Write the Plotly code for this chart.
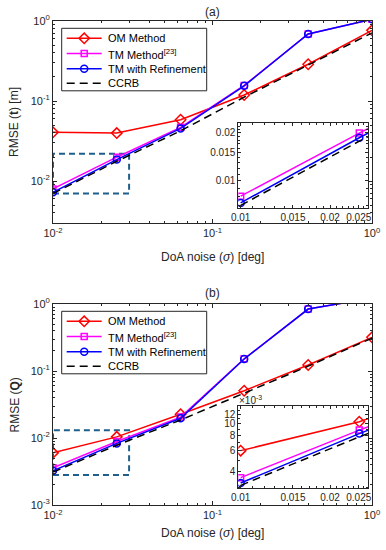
import plotly.graph_objects as go

# ---------------- data ----------------
sigma = [0.01, 0.0251, 0.0631, 0.158, 0.398, 1.0]

# panel (a): RMSE(t) [m]
a_om = [0.0407, 0.0398, 0.0584, 0.119, 0.288, 0.764]
a_tm = [0.0080, 0.0199, 0.047, 0.157, 0.688, 1.05]
a_ref = [0.00726, 0.0186, 0.0455, 0.155, 0.688, 1.05]
a_ccrb = [0.0070, 0.0177, 0.0425, 0.112, 0.282, 0.71]

# panel (b): RMSE(Q)
b_om = [0.0060, 0.0104, 0.0226, 0.0508, 0.123, 0.318]
b_tm = [0.00359, 0.00887, 0.0205, 0.152, 0.84, 1.23]
b_ref = [0.00324, 0.0083, 0.0197, 0.151, 0.84, 1.23]
b_ccrb = [0.0031, 0.0078, 0.0186, 0.047, 0.118, 0.31]

# zoom boxes drawn on main axes
box_a_x = [0.01, 0.03]
box_a_y = [0.007, 0.022]
box_b_x = [0.01, 0.03]
box_b_y = [0.0028, 0.013]

series_names = ["OM Method", "TM Method<sup>[23]</sup>", "TM with Refinement", "CCRB"]

main_x_ticks = [0.01, 0.1, 1]
main_x_text = ["10<sup>-2</sup>", "10<sup>-1</sup>", "10<sup>0</sup>"]
a_y_ticks = [0.01, 0.1, 1]
a_y_text = ["10<sup>-2</sup>", "10<sup>-1</sup>", "10<sup>0</sup>"]
b_y_ticks = [0.001, 0.01, 0.1, 1]
b_y_text = ["10<sup>-3</sup>", "10<sup>-2</sup>", "10<sup>-1</sup>", "10<sup>0</sup>"]
inset_x_ticks = [0.01, 0.015, 0.02, 0.025]
inset_x_text = ["0.01", "0.015", "0.02", "0.025"]
a_in_y_ticks = [0.01, 0.015, 0.02]
a_in_y_text = ["0.01", "0.015", "0.02"]
b_in_y_ticks = [0.004, 0.006, 0.008, 0.010, 0.012]
b_in_y_text = ["4", "6", "8", "10", "12"]

# ---------------- layout helpers ----------------
W, H = 386, 550
FONT = "Liberation Sans, Arial, Helvetica, sans-serif"
AX = "#262626"


def px(x):
    return x / W


def py(y):
    return 1 - y / H


def minor_vals(lo_exp, hi_exp):
    vals = []
    for e in range(lo_exp, hi_exp):
        for m in range(2, 10):
            vals.append(m * 10.0 ** e)
    return vals


def lin_minor(lo, hi, step, skip):
    vals = []
    v = lo
    while v <= hi + 1e-12:
        if all(abs(v - s) > 1e-9 for s in skip):
            vals.append(round(v, 6))
        v += step
    return vals


def axis(domain, rng, tickvals, ticktext, minor, size, ticklen=4):
    return dict(
        type="log", domain=domain, range=rng, tickmode="array",
        tickvals=tickvals, ticktext=ticktext, ticks="inside", ticklen=ticklen,
        tickwidth=1, tickcolor=AX, showline=True, linecolor=AX, linewidth=1,
        mirror="allticks", showgrid=False, zeroline=False, automargin=False,
        tickfont=dict(family=FONT, size=size, color=AX),
        minor=dict(tickmode="array", tickvals=minor, ticks="inside",
                   ticklen=2, tickcolor=AX, showgrid=False),
    )


fig = go.Figure()

styles = [
    dict(color="#ff0000", symbol="diamond-open", size=8, dash="solid"),
    dict(color="#ff00ff", symbol="square-open", size=6, dash="solid"),
    dict(color="#0000ff", symbol="circle-open", size=7, dash="solid"),
    dict(color="#000000", symbol=None, size=0, dash="8px,5px"),
]


def add_panel(xa, ya, data):
    for name, ys, st in zip(series_names, data, styles):
        mode = "lines" if st["symbol"] is None else "lines+markers"
        kw = dict(x=sigma, y=ys, mode=mode, name=name, xaxis=xa, yaxis=ya,
                  line=dict(color=st["color"], width=1.5, dash=st["dash"]),
                  showlegend=False)
        if st["symbol"] is not None:
            kw["marker"] = dict(symbol=st["symbol"], size=st["size"],
                                color=st["color"],
                                line=dict(color=st["color"], width=1.5))
        fig.add_trace(go.Scatter(**kw))


def add_box(xa, ya, bx, by):
    fig.add_trace(go.Scatter(
        x=[bx[0], bx[1], bx[1], bx[0], bx[0]],
        y=[by[0], by[0], by[1], by[1], by[0]],
        mode="lines", xaxis=xa, yaxis=ya, showlegend=False,
        line=dict(color="#1f5f8b", width=2, dash="6px,4px"), hoverinfo="skip"))


def add_inset_bg(xa, ya):
    fig.add_trace(go.Scatter(
        x=[0.001, 1, 1, 0.001, 0.001], y=[0.0001, 0.0001, 10, 10, 0.0001],
        mode="lines", fill="toself", fillcolor="white",
        line=dict(width=0, color="white"), xaxis=xa, yaxis=ya,
        showlegend=False, hoverinfo="skip"))


# panel (a)
add_box("x", "y", box_a_x, box_a_y)
add_panel("x", "y", [a_om, a_tm, a_ref, a_ccrb])
add_inset_bg("x2", "y2")
add_panel("x2", "y2", [a_om, a_tm, a_ref, a_ccrb])

# panel (b)
add_box("x3", "y3", box_b_x, box_b_y)
add_panel("x3", "y3", [b_om, b_tm, b_ref, b_ccrb])
add_inset_bg("x4", "y4")
add_panel("x4", "y4", [b_om, b_tm, b_ref, b_ccrb])

# ---------------- legends (drawn on a full-figure helper axis) ----------------
ann = []


def add_legend(top):
    # top = pixel y of the main axes top edge
    bx0, bx1 = 61.7, 206.7
    by0, by1 = top + 7.3, top + 69.8
    fig.add_trace(go.Scatter(
        x=[px(bx0), px(bx1), px(bx1), px(bx0), px(bx0)],
        y=[py(by0), py(by0), py(by1), py(by1), py(by0)],
        mode="lines", fill="toself", fillcolor="white",
        line=dict(color=AX, width=1), xaxis="x5", yaxis="y5",
        showlegend=False, hoverinfo="skip"))
    rows = [top + 17.3, top + 32.5, top + 47.8, top + 62.3]
    for name, st, ry in zip(series_names, styles, rows):
        fig.add_trace(go.Scatter(
            x=[px(66.7), px(101.7)], y=[py(ry), py(ry)], mode="lines",
            line=dict(color=st["color"], width=1.5, dash=st["dash"]),
            xaxis="x5", yaxis="y5", showlegend=False, hoverinfo="skip"))
        if st["symbol"] is not None:
            fig.add_trace(go.Scatter(
                x=[px(84.2)], y=[py(ry)], mode="markers",
                marker=dict(symbol=st["symbol"], size=st["size"],
                            color=st["color"],
                            line=dict(color=st["color"], width=1.5)),
                xaxis="x5", yaxis="y5", showlegend=False, hoverinfo="skip"))
        ann.append(dict(text=name, x=px(106), y=py(ry), xref="paper",
                        yref="paper", xanchor="left", yanchor="middle",
                        showarrow=False, font=dict(size=11, color="#000")))


add_legend(21)
add_legend(304)

main_xdom = [px(53), px(372)]
in_xdom = [px(238.3), px(368)]
in_xrange = [-2.008, -1.571]

in_x_minor = lin_minor(0.010, 0.026, 0.001, inset_x_ticks)

fig.update_layout(
    template="none",
    width=W, height=H, margin=dict(l=0, r=0, t=0, b=0, pad=0),
    paper_bgcolor="white", plot_bgcolor="rgba(0,0,0,0)",
    font=dict(family=FONT, color=AX),
    xaxis=axis(main_xdom, [-2, 0], main_x_ticks, main_x_text,
               minor_vals(-2, 0), 11),
    yaxis=axis([py(223), py(21)], [-2.523, 0], a_y_ticks, a_y_text,
               minor_vals(-3, 0), 11),
    xaxis2=dict(axis(in_xdom, in_xrange, inset_x_ticks, inset_x_text,
                     in_x_minor, 10, 3), anchor="y2"),
    yaxis2=dict(axis([py(207.5), py(123.3)], [-2.168, -1.640], a_in_y_ticks,
                     a_in_y_text, lin_minor(0.007, 0.022, 0.001, a_in_y_ticks),
                     10, 3), anchor="x2"),
    xaxis3=dict(axis(main_xdom, [-2, 0], main_x_ticks, main_x_text,
                     minor_vals(-2, 0), 11), anchor="y3"),
    yaxis3=dict(axis([py(505), py(304)], [-3, 0], b_y_ticks, b_y_text,
                     minor_vals(-3, 0), 11), anchor="x3"),
    xaxis4=dict(axis(in_xdom, in_xrange, inset_x_ticks, inset_x_text,
                     in_x_minor, 10, 3), anchor="y4"),
    yaxis4=dict(axis([py(488.3), py(406)], [-2.533, -1.853], b_in_y_ticks,
                     b_in_y_text, lin_minor(0.003, 0.014, 0.001, b_in_y_ticks),
                     10, 3), anchor="x4"),
    xaxis5=dict(domain=[0, 1], range=[0, 1], visible=False, anchor="y5",
                fixedrange=True, automargin=False),
    yaxis5=dict(domain=[0, 1], range=[0, 1], visible=False, anchor="x5",
                fixedrange=True, automargin=False),
    showlegend=False,
)

cx = px((53 + 372) / 2)
common = dict(xref="paper", yref="paper", showarrow=False,
              xanchor="center", yanchor="middle")
ann.append(dict(text="(a)", x=cx, y=py(12), font=dict(size=12), **common))
ann.append(dict(text="(b)", x=cx, y=py(293), font=dict(size=12), **common))
ann.append(dict(text="DoA noise (<i>σ</i>) [deg]", x=cx, y=py(257),
                font=dict(size=12), **common))
ann.append(dict(text="DoA noise (<i>σ</i>) [deg]", x=cx, y=py(533),
                font=dict(size=12), **common))
ann.append(dict(text="RMSE (<b>t</b>) [m]", x=px(14), y=py(122),
                textangle=-90, font=dict(size=12), **common))
ann.append(dict(text="RMSE (<b>Q</b>)", x=px(14), y=py(404.5),
                textangle=-90, font=dict(size=12), **common))
ann.append(dict(text="×10<sup>-3</sup>", x=px(237), y=py(400),
                xref="paper", yref="paper", showarrow=False, xanchor="left",
                yanchor="middle", font=dict(size=10)))
fig.update_layout(annotations=ann)

fig.write_html("out.html", config={"displayModeBar": False},
               post_script="document.body.style.margin='0px';")
